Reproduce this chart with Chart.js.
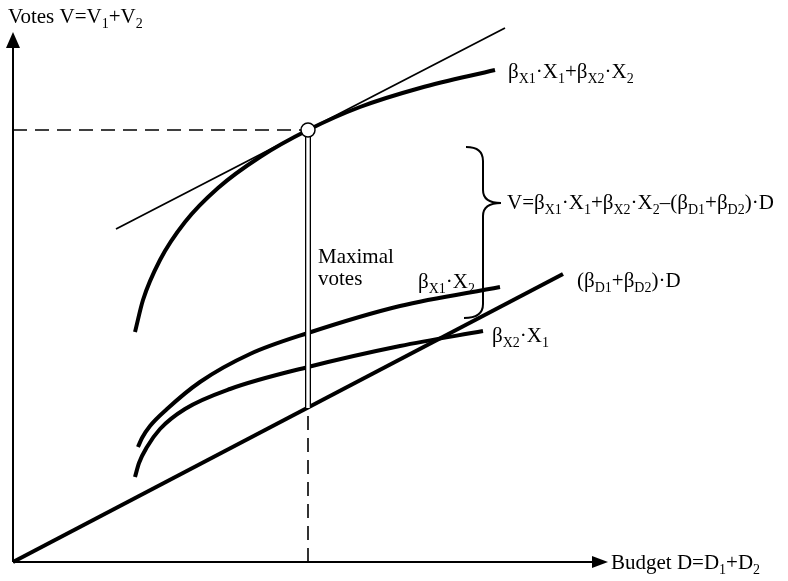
<!DOCTYPE html>
<html>
<head>
<meta charset="utf-8">
<script src="https://cdn.jsdelivr.net/npm/chart.js@4/dist/chart.umd.min.js"></script>
<style>
  body { margin: 0; background: #fff; }
</style>
</head>
<body>
<canvas id="myChart" width="788" height="581"></canvas>
<script>
// budget D (x) and votes V (y)
let totalD = [122, 130, 147, 172, 205, 247, 295, 347, 407, 482];
let totalV = [230, 262, 302, 340, 374, 405, 432, 455, 474, 492];

let x1D = [125, 129, 137, 154, 187, 237, 295, 387, 487];
let x1V = [115, 124, 136, 153, 180, 208, 229, 256, 275];

let x2D = [122, 126, 134, 147, 172, 217, 295, 387, 470];
let x2V = [85, 99, 115, 133, 153, 173, 195, 216, 231];

let costD = [0, 550];
let costV = [0, 288];

let tangentD = [103, 492];
let tangentV = [333, 534];

let optD = 295;
let optV = 432;
let optBaseV = 154;   // cost line under the optimum

let axisMaxD = 595;
let axisMaxV = 530;

let labels = [
  'Votes V=V_{1}+V_{2}',
  'Budget D=D_{1}+D_{2}',
  'β_{X1}·X_{1}+β_{X2}·X_{2}',
  'V=β_{X1}·X_{1}+β_{X2}·X_{2}–(β_{D1}+β_{D2})·D',
  'Maximal',
  'votes',
  'β_{X1}·X_{2}',
  '(β_{D1}+β_{D2})·D',
  'β_{X2}·X_{1}'
];
// where each label sits (data units)
let labelPos = [
  [-5, 539], [598, -7], [495, 484], [494, 353],
  [305, 299], [305, 277], [405, 274], [564, 275], [479, 220]
];

function pts(xs, ys) {
  return xs.map((x, i) => ({ x: x, y: ys[i] }));
}

function line(data, width, extra) {
  return Object.assign({
    data: data,
    showLine: true,
    borderColor: '#000',
    borderWidth: width,
    pointRadius: 0,
    fill: false,
    clip: false
  }, extra || {});
}

function drawRich(ctx, x, y, text) {
  let parts = text.split(/(_\{[^}]*\})/);
  parts.forEach(p => {
    if (!p) return;
    let sub = p.startsWith('_{');
    let t = sub ? p.slice(2, -1) : p;
    ctx.font = sub ? '14px "Liberation Serif"' : '21px "Liberation Serif"';
    ctx.fillText(t, x, sub ? y + 5 : y);
    x += ctx.measureText(t).width;
  });
}

let sketch = {
  id: 'sketch',
  beforeDatasetsDraw: (chart) => {
    let ctx = chart.ctx;
    let sx = chart.scales.x, sy = chart.scales.y;
    let x0 = sx.getPixelForValue(0), y0 = sy.getPixelForValue(0);
    let xt = sx.getPixelForValue(axisMaxD), yt = sy.getPixelForValue(axisMaxV);
    ctx.save();
    ctx.strokeStyle = '#000';
    ctx.fillStyle = '#000';
    ctx.lineWidth = 2;
    ctx.beginPath();
    ctx.moveTo(x0, y0);
    ctx.lineTo(x0, yt + 10);
    ctx.moveTo(x0, y0);
    ctx.lineTo(xt - 10, y0);
    ctx.stroke();
    ctx.beginPath();
    ctx.moveTo(x0, yt);
    ctx.lineTo(x0 - 7, yt + 16);
    ctx.lineTo(x0 + 7, yt + 16);
    ctx.closePath();
    ctx.fill();
    ctx.beginPath();
    ctx.moveTo(xt, y0);
    ctx.lineTo(xt - 16, y0 - 6);
    ctx.lineTo(xt - 16, y0 + 6);
    ctx.closePath();
    ctx.fill();

    // curly brace
    let bx = sx.getPixelForValue(470);
    let top = sy.getPixelForValue(415);
    let tip = sy.getPixelForValue(359);
    let bot = sy.getPixelForValue(244);
    ctx.lineWidth = 2;
    ctx.beginPath();
    ctx.moveTo(bx - 17, top);
    ctx.quadraticCurveTo(bx, top, bx, top + 14);
    ctx.lineTo(bx, tip - 13);
    ctx.quadraticCurveTo(bx, tip, bx + 18, tip);
    ctx.quadraticCurveTo(bx, tip, bx, tip + 13);
    ctx.lineTo(bx, bot - 14);
    ctx.quadraticCurveTo(bx, bot, bx - 19, bot);
    ctx.stroke();
    ctx.restore();
  },
  afterDatasetsDraw: (chart) => {
    let ctx = chart.ctx;
    let sx = chart.scales.x, sy = chart.scales.y;
    ctx.save();
    ctx.fillStyle = '#000';
    ctx.textBaseline = 'alphabetic';
    labels.forEach((t, i) => {
      drawRich(ctx, sx.getPixelForValue(labelPos[i][0]), sy.getPixelForValue(labelPos[i][1]), t);
    });
    ctx.restore();
  }
};

var ctx = document.getElementById('myChart').getContext('2d');
let myChart = new Chart(ctx, {
  type: 'scatter',
  data: {
    datasets: [
      // optimum point
      {
        data: [{ x: optD, y: optV }],
        pointRadius: 7,
        pointBackgroundColor: '#fff',
        pointBorderColor: '#000',
        pointBorderWidth: 1.5,
        showLine: false,
        clip: false
      },
      // double line: white core on a black band
      line(pts([optD, optD], [optBaseV, optV - 7]), 3.4, { borderColor: '#fff' }),
      line(pts([optD, optD], [optBaseV, optV - 7]), 6),
      line(pts([0, optD - 7], [optV, optV]), 1.6, { borderDash: [14, 8] }),
      line(pts([optD, optD], [0, optBaseV]), 1.6, { borderDash: [14, 8] }),
      line(pts(totalD, totalV), 4, { cubicInterpolationMode: 'monotone' }),
      line(pts(x1D, x1V), 4, { cubicInterpolationMode: 'monotone' }),
      line(pts(x2D, x2V), 4, { cubicInterpolationMode: 'monotone' }),
      line(pts(costD, costV), 4),
      line(pts(tangentD, tangentV), 1.8)
    ]
  },
  options: {
    responsive: false,
    animation: false,
    layout: { padding: 0, autoPadding: false },
    plugins: {
      legend: { display: false },
      tooltip: { enabled: false }
    },
    scales: {
      x: { type: 'linear', display: false, min: -13, max: 775 },
      y: { type: 'linear', display: false, min: -19, max: 562 }
    }
  },
  plugins: [sketch]
});
</script>
</body>
</html>
